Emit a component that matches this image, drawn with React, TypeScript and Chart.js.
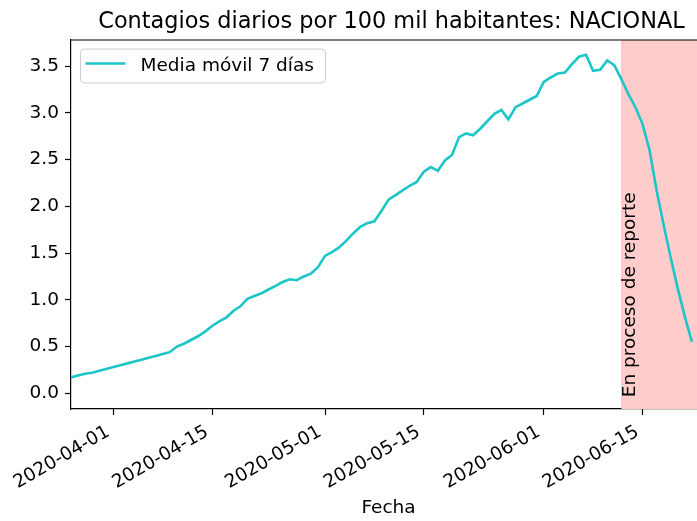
import React, { useEffect, useRef } from 'react';
import { Chart, registerables } from 'chart.js';

Chart.register(...registerables);

// ---- data ----
const START_DATE = '2020-03-26';
const REPORT_START = '2020-06-12';
const TITLE = 'Contagios diarios por 100 mil habitantes: NACIONAL';
const SERIES_LABEL = 'Media móvil 7 días';
const X_LABEL = 'Fecha';
const SPAN_LABEL = 'En proceso de reporte';

const values = [
  0.17, 0.19, 0.21, 0.22, 0.24, 0.26, 0.28, 0.30, 0.32, 0.34,
  0.36, 0.38, 0.40, 0.42, 0.44, 0.50, 0.53, 0.57, 0.61, 0.66,
  0.72, 0.77, 0.81, 0.88, 0.93, 1.01, 1.04, 1.07, 1.11, 1.15,
  1.19, 1.22, 1.21, 1.25, 1.28, 1.35, 1.47, 1.51, 1.56, 1.63,
  1.71, 1.78, 1.82, 1.84, 1.95, 2.07, 2.12, 2.17, 2.22, 2.26,
  2.37, 2.42, 2.38, 2.49, 2.55, 2.74, 2.78, 2.76, 2.83, 2.91,
  2.99, 3.03, 2.93, 3.06, 3.10, 3.14, 3.18, 3.33, 3.38, 3.42,
  3.43, 3.52, 3.60, 3.62, 3.45, 3.46, 3.56, 3.51, 3.36, 3.20,
  3.06, 2.88, 2.60, 2.17, 1.80, 1.45, 1.12, 0.82, 0.55,
];

const xTickLabels = ['2020-04-01', '2020-04-15', '2020-05-01', '2020-05-15', '2020-06-01', '2020-06-15'];
const yTickValues = [0, 0.5, 1, 1.5, 2, 2.5, 3, 3.5];

const DAY_MS = 86400000;
const dayIndex = (s: string) => Math.round((Date.parse(s) - Date.parse(START_DATE)) / DAY_MS);

const LINE_COLOR = '#1cc6c8';
const FONT = "'DejaVu Sans', sans-serif";
const TICK_SIZE = 18.5;

export default function App() {
  const ref = useRef<HTMLCanvasElement | null>(null);

  useEffect(() => {
    if (!ref.current) return;

    const overlay = {
      id: 'overlay',
      beforeDatasetsDraw(chart: any) {
        const { ctx, chartArea: ca, scales } = chart;
        const x0 = scales.x.getPixelForValue(dayIndex(REPORT_START));
        ctx.save();
        ctx.fillStyle = '#ffcccc';
        ctx.fillRect(x0, ca.top, ca.right - x0, ca.bottom - ca.top);
        ctx.strokeStyle = 'rgba(255,0,0,0.12)';
        ctx.lineWidth = 1;
        ctx.beginPath();
        ctx.moveTo(x0 + 0.5, ca.top);
        ctx.lineTo(x0 + 0.5, ca.bottom);
        ctx.stroke();
        ctx.restore();
      },
      afterDraw(chart: any) {
        const { ctx, chartArea: ca, scales } = chart;
        ctx.save();
        // top & right spines
        ctx.strokeStyle = '#000';
        ctx.lineWidth = 1.2;
        ctx.beginPath();
        ctx.moveTo(ca.left, ca.top);
        ctx.lineTo(ca.right, ca.top);
        ctx.lineTo(ca.right, ca.bottom);
        ctx.stroke();

        // title
        ctx.fillStyle = '#000';
        ctx.font = `22.4px ${FONT}`;
        ctx.textAlign = 'center';
        ctx.textBaseline = 'alphabetic';
        ctx.fillText(TITLE, (ca.left + ca.right) / 2 + 3, ca.top - 12);

        // rotated span label
        const x0 = scales.x.getPixelForValue(dayIndex(REPORT_START));
        const y0 = scales.y.getPixelForValue(0);
        ctx.save();
        ctx.translate(x0 + 13.5, y0 + 4);
        ctx.rotate(-Math.PI / 2);
        ctx.font = `${TICK_SIZE}px ${FONT}`;
        ctx.textAlign = 'left';
        ctx.textBaseline = 'alphabetic';
        ctx.fillStyle = '#000';
        ctx.fillText(SPAN_LABEL, 0, 0);
        ctx.restore();

        // legend
        const lx = ca.left + 9.5;
        const ly = ca.top + 9;
        const lw = 245;
        const lh = 34;
        ctx.beginPath();
        (ctx as any).roundRect(lx, ly, lw, lh, 4);
        ctx.fillStyle = 'rgba(255,255,255,0.8)';
        ctx.fill();
        ctx.strokeStyle = '#cccccc';
        ctx.lineWidth = 1;
        ctx.stroke();
        ctx.strokeStyle = LINE_COLOR;
        ctx.lineWidth = 2.6;
        ctx.beginPath();
        ctx.moveTo(lx + 5, ly + 14.5);
        ctx.lineTo(lx + 45, ly + 14.5);
        ctx.stroke();
        ctx.fillStyle = '#000';
        ctx.font = `${TICK_SIZE}px ${FONT}`;
        ctx.textAlign = 'left';
        ctx.textBaseline = 'alphabetic';
        ctx.fillText(SERIES_LABEL, lx + 60, ly + 21.5);
        ctx.restore();
      },
    };

    const chart = new Chart(ref.current, {
      type: 'line',
      data: {
        datasets: [
          {
            label: SERIES_LABEL,
            data: values.map((v, i) => ({ x: i, y: v })),
            borderColor: LINE_COLOR,
            backgroundColor: LINE_COLOR,
            borderWidth: 2.6,
            pointRadius: 0,
            tension: 0,
            fill: false,
          },
        ],
      },
      options: {
        responsive: false,
        animation: false,
        devicePixelRatio: 1,
        layout: { padding: { top: 40, left: 0, right: 6, bottom: 0 } },
        plugins: {
          legend: { display: false },
          title: { display: false },
          tooltip: { enabled: false },
        },
        scales: {
          x: {
            type: 'linear',
            min: 0,
            max: 90,
            afterBuildTicks: (scale: any) => {
              scale.ticks = xTickLabels.map((s) => ({ value: dayIndex(s) }));
            },
            afterFit: (scale: any) => {
              scale.height = 112;
            },
            ticks: {
              callback: (_v: any, i: number) => xTickLabels[i],
              autoSkip: false,
              maxRotation: 30,
              minRotation: 30,
              color: '#000',
              padding: 6,
              labelOffset: -5,
              font: { family: FONT, size: TICK_SIZE },
            },
            grid: {
              display: true,
              drawOnChartArea: false,
              drawTicks: true,
              tickLength: 6,
              tickColor: '#000',
              tickWidth: 1.2,
            },
            border: { display: true, color: '#000', width: 1.2 },
            title: {
              display: true,
              text: X_LABEL,
              color: '#000',
              font: { family: FONT, size: TICK_SIZE },
              padding: { top: 4, bottom: 2 },
            },
          },
          y: {
            type: 'linear',
            min: -0.168,
            max: 3.779,
            afterBuildTicks: (scale: any) => {
              scale.ticks = yTickValues.map((v) => ({ value: v }));
            },
            afterFit: (scale: any) => {
              scale.width = 71;
            },
            ticks: {
              callback: (v: any) => Number(v).toFixed(1),
              color: '#000',
              padding: 6,
              font: { family: FONT, size: TICK_SIZE },
            },
            grid: {
              display: true,
              drawOnChartArea: false,
              drawTicks: true,
              tickLength: 6,
              tickColor: '#000',
              tickWidth: 1.2,
            },
            border: { display: true, color: '#000', width: 1.2 },
          },
        },
      },
      plugins: [overlay],
    } as any);

    return () => chart.destroy();
  }, []);

  return (
    <div
      style={{
        position: 'fixed',
        left: 0,
        top: 0,
        width: 697,
        height: 521,
        overflow: 'hidden',
        background: '#fff',
      }}
    >
      <canvas ref={ref} width={712} height={521} style={{ display: 'block' }} />
    </div>
  );
}
